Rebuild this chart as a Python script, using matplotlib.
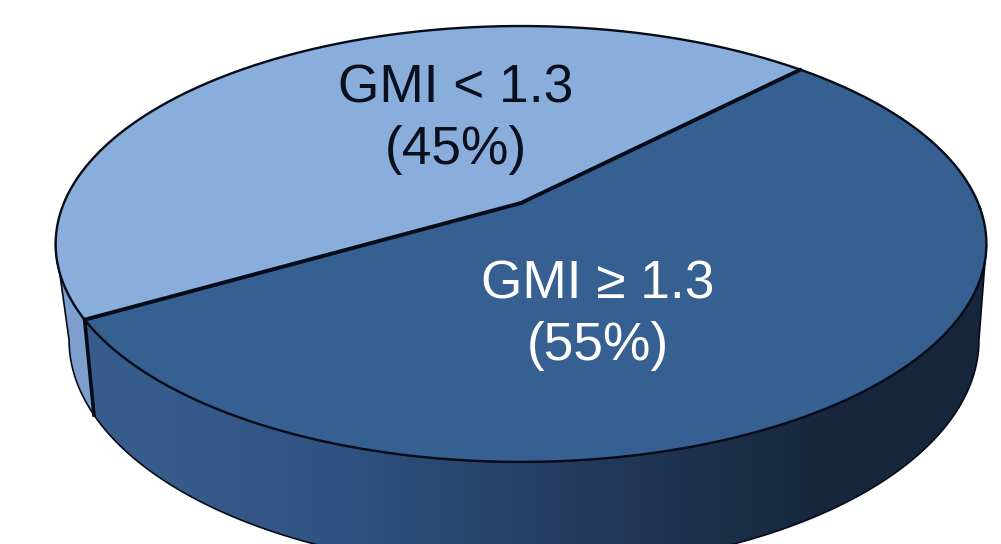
import numpy as np
import matplotlib
matplotlib.use("Agg")
import matplotlib.pyplot as plt
from matplotlib.patches import Polygon
from matplotlib.colors import LinearSegmentedColormap

# slices, going counter-clockwise from the upper right seam
shares = [45, 55]
labels = ["GMI < 1.3\n(45%)", "GMI \u2265 1.3\n(55%)"]
top_colors = ["#8AAEDC", "#376092"]
text_colors = ["#0A0F1E", "#FFFFFF"]
label_pos = [(455.5, 119), (597.5, 315)]

# shading along the outer wall of the dark slice
wall_stops = [0.0, 0.10, 0.30, 0.50, 0.70, 0.85, 1.0]
wall_colors = ["#365C8C", "#365C8C", "#2E5180", "#253F63", "#1B2F49", "#17263A", "#17263A"]
light_wall = "#7C9FCE"

start_angle = 47.0
persp = 0.165
side_angles = (189.5, 350.5)
low_seam_shift = -1.2
apex = (521.0, 203.0)
edge_color = "#060B18"


def ring(theta, cx, cy, ax_x, ax_y):
    """ Perspective view of a circle, theta in degrees """
    t = np.radians(theta)
    w = 1.0 + persp*np.sin(t)
    return np.column_stack((cx + ax_x*np.cos(t)/w, cy - ax_y*np.sin(t)/w))


def top_ring(theta):
    return ring(theta, 521.0, 208.0, 459.0, 212.0)


def low_ring(theta):
    return ring(theta, 524.0, 302.0, 448.7, 223.7)


fig = plt.figure(figsize=(10.01, 5.44), dpi=100)
ax = fig.add_axes([0, 0, 1, 1])

angles = start_angle + np.cumsum([0] + shares)*3.6
seam = angles[1]
low_seam = seam + low_seam_shift

# outer wall, dark part
front_top = np.linspace(seam, side_angles[1], 200)
front_low = np.linspace(side_angles[1], low_seam, 200)
wall_xy = np.vstack((top_ring(front_top), low_ring(front_low)))
wall_patch = Polygon(wall_xy, closed=True, fc="none", ec="none")
ax.add_patch(wall_patch)
cmap = LinearSegmentedColormap.from_list("wall", list(zip(wall_stops, wall_colors)))
grad = ax.imshow(np.linspace(0, 1, 512)[None, :], cmap=cmap, aspect="auto",
                 extent=(85, 990, 544, 0), zorder=1)
grad.set_clip_path(wall_patch)
ax.add_patch(Polygon(wall_xy, closed=True, fc="none", ec=edge_color, lw=1.2, zorder=2))

# outer wall, light part
side_top = np.linspace(side_angles[0], seam, 40)
side_low = np.linspace(low_seam, side_angles[0], 40)
side_xy = np.vstack((top_ring(side_top), low_ring(side_low)))
ax.add_patch(Polygon(side_xy, closed=True, fc=light_wall, ec=edge_color, lw=1.2, zorder=2))

# seam between the two walls
seam_xy = np.vstack((top_ring(np.array([seam])), low_ring(np.array([low_seam]))))
ax.plot(seam_xy[:, 0], seam_xy[:, 1], color=edge_color, lw=2.6, zorder=3)

# top face
for i in range(len(shares)):
    theta = np.linspace(angles[i], angles[i + 1], 300)
    xy = np.vstack(([apex], top_ring(theta)))
    ax.add_patch(Polygon(xy, closed=True, fc=top_colors[i], ec="none", zorder=4))

outer = np.linspace(0, 360, 721)
outer_xy = top_ring(outer)
ax.plot(outer_xy[:, 0], outer_xy[:, 1], color=edge_color, lw=1.7, zorder=5)

for a in angles[:2]:
    end = top_ring(np.array([a]))[0]
    ax.plot([apex[0], end[0]], [apex[1], end[1]], color=edge_color, lw=2.8,
            solid_capstyle="round", zorder=6)

for text, pos, col in zip(labels, label_pos, text_colors):
    ax.text(pos[0], pos[1], text, color=col, ha="center", va="center",
            family="Liberation Sans", fontsize=38.3, linespacing=1.3, zorder=7)

ax.set_xlim(0, 1001)
ax.set_ylim(544, 0)
ax.axis("off")

fig.savefig("out.png", dpi=100)
plt.close()
